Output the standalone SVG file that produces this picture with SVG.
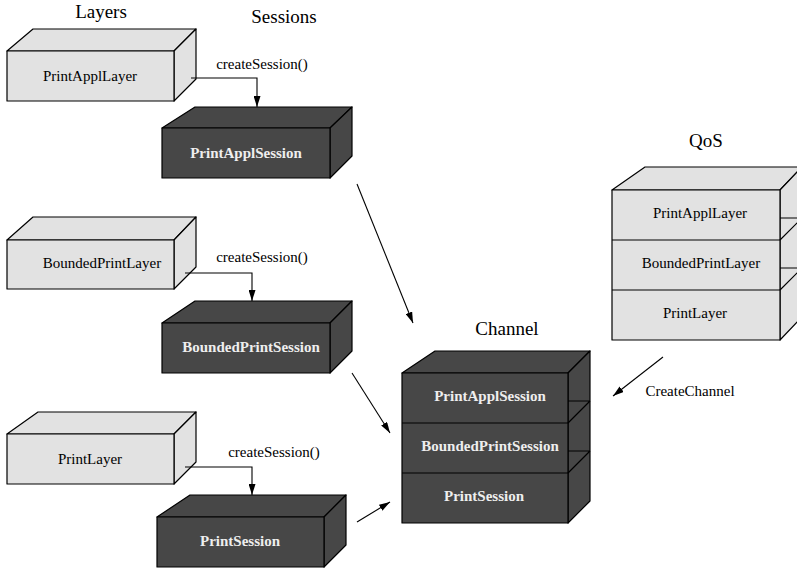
<svg xmlns="http://www.w3.org/2000/svg" width="797" height="570" viewBox="0 0 797 570">
  <style>
    .light { fill: #e2e2e2; stroke: #000; stroke-width: 1.2; stroke-linejoin: round; }
    .dark { fill: #474747; stroke: #000; stroke-width: 1.2; stroke-linejoin: round; }
    .edge { fill: none; stroke: #000; stroke-width: 1.2; }
    .title { font-family: "Liberation Serif", "Times New Roman", serif; font-size: 19px; fill: #000; text-anchor: middle; }
    .lbl { font-family: "Liberation Serif", "Times New Roman", serif; font-size: 15px; fill: #000; text-anchor: middle; }
    .slbl { font-family: "Liberation Serif", "Times New Roman", serif; font-size: 15px; font-weight: bold; fill: #eeeeee; text-anchor: middle; }
    .conn { fill: none; stroke: #000; stroke-width: 1.1; }
  </style>
  <defs>
    <marker id="arrow" markerWidth="11" markerHeight="7" refX="11" refY="3.5" orient="auto" markerUnits="userSpaceOnUse">
      <path d="M0,0 L11,3.5 L0,7 z" fill="#000"/>
    </marker>
  </defs>

  <rect width="797" height="570" fill="#fff"/>

  <!-- column titles -->
  <text class="title" x="101" y="18">Layers</text>
  <text class="title" x="284" y="23">Sessions</text>
  <text class="title" x="706" y="147">QoS</text>
  <text class="title" x="507" y="335">Channel</text>

  <!-- layer boxes -->
  <g id="printappllayer">
    <polygon class="light" points="7,51 33,29 196,29 174,51"/>
    <polygon class="light" points="174,51 196,29 196,79 174,101"/>
    <rect class="light" x="7" y="51" width="167" height="50"/>
    <text class="lbl" x="90" y="81">PrintApplLayer</text>
  </g>
  <g id="boundedprintlayer">
    <polygon class="light" points="7,240 33,217 196,217 174,240"/>
    <polygon class="light" points="174,240 196,217 196,267 174,289"/>
    <rect class="light" x="7" y="240" width="167" height="49"/>
    <text class="lbl" x="102" y="268">BoundedPrintLayer</text>
  </g>
  <g id="printlayer">
    <polygon class="light" points="7,434 38,412 196,412 174,434"/>
    <polygon class="light" points="174,434 196,412 196,462 174,484"/>
    <rect class="light" x="7" y="434" width="167" height="50"/>
    <text class="lbl" x="90" y="464">PrintLayer</text>
  </g>

  <!-- session boxes -->
  <g id="printapplsession">
    <polygon class="dark" points="162,128 195,107 352,107 330,128"/>
    <polygon class="dark" points="330,128 352,107 352,156 330,178"/>
    <rect class="dark" x="162" y="128" width="168" height="50"/>
    <text class="slbl" x="246" y="158">PrintApplSession</text>
  </g>
  <g id="boundedprintsession">
    <polygon class="dark" points="162,323 195,301 352,301 330,323"/>
    <polygon class="dark" points="330,323 352,301 352,351 330,373"/>
    <rect class="dark" x="162" y="323" width="168" height="50"/>
    <text class="slbl" x="251" y="352">BoundedPrintSession</text>
  </g>
  <g id="printsession">
    <polygon class="dark" points="157,517 190,495 346,495 324,517"/>
    <polygon class="dark" points="324,517 346,495 346,545 324,567"/>
    <rect class="dark" x="157" y="517" width="167" height="50"/>
    <text class="slbl" x="240" y="546">PrintSession</text>
  </g>

  <!-- QoS stack -->
  <g id="qos">
    <polygon class="light" points="612,190 645,167 802,167 780,190"/>
    <polygon class="light" points="780,190 802,167 802,317 780,340"/>
    <rect class="light" x="612" y="190" width="168" height="150"/>
    <path class="edge" d="M612,240 H780 M612,290 H780 M780,240 L802,218 M780,290 L802,268 M780,218 H802 M780,268 H802"/>
    <text class="lbl" x="700" y="218">PrintApplLayer</text>
    <text class="lbl" x="701" y="268">BoundedPrintLayer</text>
    <text class="lbl" x="695" y="318">PrintLayer</text>
  </g>

  <!-- Channel stack -->
  <g id="channel">
    <polygon class="dark" points="402,373 435,351 590,351 568,373"/>
    <polygon class="dark" points="568,373 590,351 590,501 568,523"/>
    <rect class="dark" x="402" y="373" width="166" height="150"/>
    <path class="edge" d="M402,423 H568 M402,473 H568 M568,423 L590,401 M568,473 L590,451 M568,401 H590 M568,451 H590"/>
    <text class="slbl" x="490" y="401">PrintApplSession</text>
    <text class="slbl" x="490" y="451">BoundedPrintSession</text>
    <text class="slbl" x="484" y="501">PrintSession</text>
  </g>

  <!-- connectors -->
  <g id="connectors">
    <path class="conn" d="M191,78 H257 V107" marker-end="url(#arrow)"/>
    <path class="conn" d="M185,273 H252 V301" marker-end="url(#arrow)"/>
    <path class="conn" d="M185,467 H252 V495" marker-end="url(#arrow)"/>
    <path class="conn" d="M357,184 L413,323" marker-end="url(#arrow)"/>
    <path class="conn" d="M352,373 L390,433" marker-end="url(#arrow)"/>
    <path class="conn" d="M357,522 L390,502" marker-end="url(#arrow)"/>
    <path class="conn" d="M663,357 L613,396" marker-end="url(#arrow)"/>
    <text class="lbl" x="262" y="69">createSession()</text>
    <text class="lbl" x="262" y="262">createSession()</text>
    <text class="lbl" x="274" y="457">createSession()</text>
    <text class="lbl" x="690" y="396">CreateChannel</text>
  </g>
</svg>
